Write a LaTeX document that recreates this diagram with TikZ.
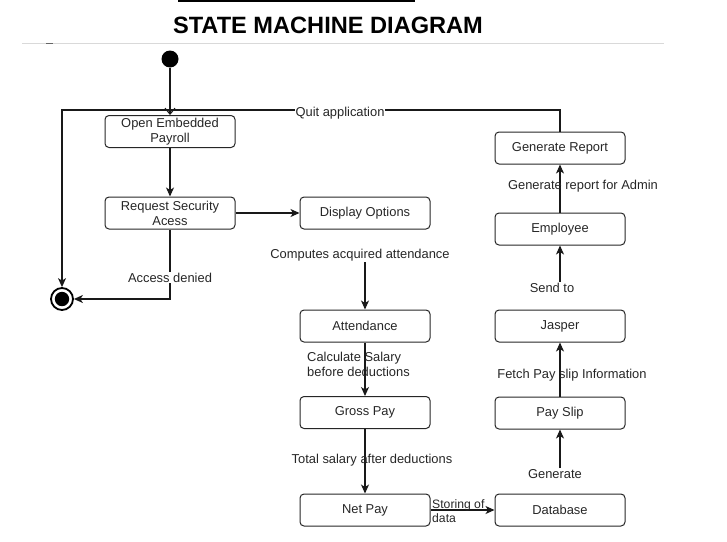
\documentclass[tikz,border=0pt]{standalone}
\usepackage{fontspec}
\setmainfont{Liberation Sans}
\usetikzlibrary{arrows.meta}
\tikzset{
  statebox/.style={draw=black!85, line width=1pt, rounded corners=4pt, minimum width=130pt, minimum height=32pt, inner sep=1pt, align=center, font=\fontsize{12.9}{15}\selectfont, text=black!85},
  lbl/.style={inner sep=1pt, align=center, font=\fontsize{12.9}{15}\selectfont, text=black!85},
  lblw/.style={lbl, fill=white},
  arr/.style={draw=black!90, line width=1.2pt, -{Stealth[length=9pt,width=8pt,inset=2.5pt]}},
  openarr/.style={draw=black!90, line width=1.1pt, -{Straight Barb[length=6pt,width=10pt,line width=1.1pt]}},
}
\begin{document}
\begin{tikzpicture}[x=1pt,y=-1pt]
\useasboundingbox (0,0) rectangle (727,541);
% header
\coordinate (tl1) at (178,1);
\coordinate (tl2) at (415,1);
\draw[line width=1.6pt] (tl1) -- (tl2);
\node[font=\bfseries\fontsize{23.6}{26}\selectfont, inner sep=0] (title) at (328,25) {STATE MACHINE DIAGRAM};
\coordinate (gl1) at (22,43.5);
\coordinate (gl2) at (664,43.5);
\draw[black!15, line width=0.8pt] (gl1) -- (gl2);
\coordinate (tk1) at (46,43.5);
\coordinate (tk2) at (53,43.5);
\draw[black!60, line width=1pt] (tk1) -- (tk2);

% states
\node[circle, fill=black, minimum size=17pt, inner sep=0] (init) at (170,59) {};
\node[circle, draw=black, line width=1.8pt, minimum size=22pt, inner sep=0] (final) at (62,299) {};
\fill (final.center) circle (7.2pt);

\node[statebox] (oep) at (170,131.5) {Open Embedded\\Payroll};
\node[statebox] (rsa) at (170,213) {Request Security\\Acess};
\node[statebox] (dop) at (365,213) {Display Options};
\node[statebox] (att) at (365,326) {Attendance};
\node[statebox] (gp) at (365,412.5) {Gross Pay};
\node[statebox] (np) at (365,510) {Net Pay};
\node[statebox] (db) at (560,510) {Database};
\node[statebox] (ps) at (560,413) {Pay Slip};
\node[statebox] (jas) at (560,326) {Jasper};
\node[statebox] (emp) at (560,229) {Employee};
\node[statebox] (gr) at (560,148) {Generate Report};

% connectors
\draw[openarr] (init) -- (oep.north);
\draw[arr] (oep) -- (rsa);
\draw[arr] (rsa) -- (dop);

\coordinate (qa) at (560,110);
\coordinate (qb) at (62,110);
\draw[arr] (gr.north) -- (qa) -- (qb) -- (final.north);
\node[lblw] (lquit) at (340,113.5) {Quit application};

\coordinate (ad) at (170,299);
\draw[arr] (rsa.south) -- (ad) -- (final.east);
\node[lblw] (ldenied) at (170,277.5) {Access denied};

\node[lbl] (lcomp) at (360,255) {Computes acquired attendance};
\draw[arr] (lcomp.south -| att.north) -- (att.north);

\draw[arr] (att) -- (gp);
\node[lbl, anchor=west, align=left] (lcalc) at (306,364.5) {Calculate Salary\\before deductions};

\draw[arr] (gp) -- (np);
\node[lbl] (ltot) at (372,460.5) {Total salary after deductions};

\draw[arr] (np) -- (db);
\node[lbl, anchor=west, align=left, font=\fontsize{12.2}{14}\selectfont] (lstore) at (431,511) {Storing of\\data};

\node[lbl] (lgen) at (555,474) {Generate};
\draw[arr] (lgen.north -| ps.south) -- (ps.south);

\draw[arr] (ps) -- (jas);
\node[lbl] (lfetch) at (572,375) {Fetch Pay slip Information};

\node[lbl] (lsend) at (552,287.5) {Send to};
\draw[arr] (lsend.north -| emp.south) -- (emp.south);

\draw[arr] (emp) -- (gr);
\node[lbl] (lrep) at (583,186) {Generate report for Admin};
\end{tikzpicture}
\end{document}
